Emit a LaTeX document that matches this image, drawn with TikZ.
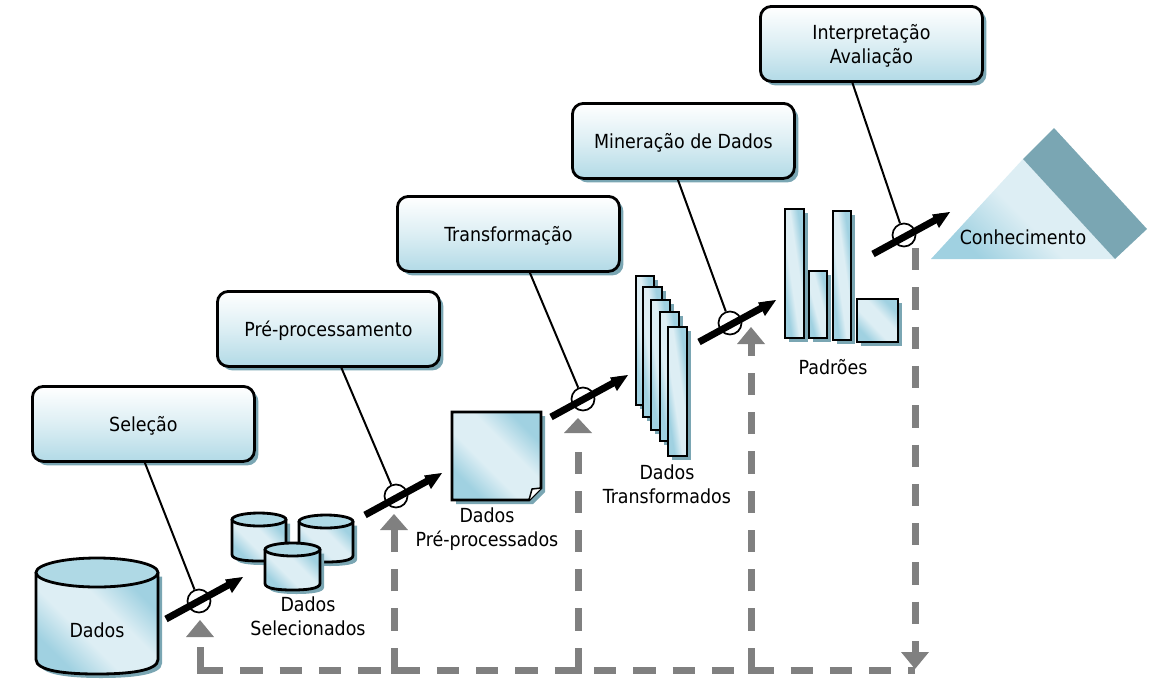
\documentclass[tikz,border=0pt]{standalone}
\usepackage{fontspec}
\setmainfont{DejaVu Sans Condensed}
\usetikzlibrary{calc}
\definecolor{dk}{HTML}{A0D1E1}
\definecolor{lt}{HTML}{DDEEF4}
\definecolor{boxb}{HTML}{B2DAE6}
\definecolor{shd}{HTML}{7AA6B3}
\definecolor{gr}{HTML}{808080}
\pgfdeclarehorizontalshading{diagsh}{100bp}{color(0bp)=(dk); color(27bp)=(dk); color(42bp)=(lt); color(58bp)=(lt); color(73bp)=(dk); color(100bp)=(dk)}
\pgfdeclarehorizontalshading{trish}{100bp}{color(0bp)=(dk); color(27bp)=(dk); color(48bp)=(lt); color(100bp)=(lt)}
\tikzset{
  every node/.style={font=\fontsize{19.4}{24}\selectfont, inner sep=0pt, align=center},
  stepbox/.style={draw=black, line width=2.8pt, rounded corners=11pt, minimum width=222pt, minimum height=75pt, top color=white, bottom color=boxb, middle color=white!55!boxb, anchor=north west, text depth=0pt,
    preaction={fill=shd, draw=none, transform canvas={shift={(4pt,-4pt)}}}},
  diag/.style={shading=diagsh, shading angle=45},
  outl/.style={draw=black, line width=2.8pt, line join=miter},
  hub/.style={circle, draw=black, line width=1.7pt, fill=white, minimum size=23pt},
  link/.style={draw=black, line width=2pt},
  flow/.style={draw=black, line width=7pt, shorten >=9pt},
  head/.style={fill=black, draw=none},
  back/.style={draw=gr, line width=7pt, dash pattern=on 22.3pt off 17pt},
  backsolid/.style={draw=gr, line width=7pt},
  tip/.style={fill=gr, draw=none},
}
% cylinder: x0 x1 ytop ybottom ry
\newcommand{\cyl}[5]{%
  \fill[shd] (#1+4,#3+#5+4) -- (#1+4,#4-#5+4) .. controls (#1+4,#4-0.2*#5+4) and (#1+4+0.25*#2-0.25*#1,#4+4) .. (#1/2+#2/2+4,#4+4) .. controls (#2+4-0.25*#2+0.25*#1,#4+4) and (#2+4,#4-0.2*#5+4) .. (#2+4,#4-#5+4) -- (#2+4,#3+#5+4) -- cycle;
  \shade[diag] (#1,#3+#5) -- (#1,#4-#5) .. controls (#1,#4-0.2*#5) and (#1+0.25*#2-0.25*#1,#4) .. (#1/2+#2/2,#4) .. controls (#2-0.25*#2+0.25*#1,#4) and (#2,#4-0.2*#5) .. (#2,#4-#5) -- (#2,#3+#5) -- cycle;
  \draw[outl] (#1,#3+#5) -- (#1,#4-#5) .. controls (#1,#4-0.2*#5) and (#1+0.25*#2-0.25*#1,#4) .. (#1/2+#2/2,#4) .. controls (#2-0.25*#2+0.25*#1,#4) and (#2,#4-0.2*#5) .. (#2,#4-#5) -- (#2,#3+#5);
  \path[fill=boxb!85!dk, draw=black, line width=2.8pt] (#1/2+#2/2,#3+#5) ellipse[x radius=(#2-#1)/2,y radius=#5];
}
% bar: x0 y0 x1 y1 (gradient stretched to the bar)
\newcommand{\barr}[4]{%
  \fill[shd] (#1+4,#2+4) rectangle (#3+4,#4+4);
  \shade[diag, transform canvas={shift={(#1,#2)},xscale={(#3-#1)/100},yscale={(#4-#2)/100}}] (0,0) rectangle (100,100);
  \draw[outl] (#1,#2) rectangle (#3,#4);
}
\begin{document}
\begin{tikzpicture}[x=1pt,y=-1pt]
\useasboundingbox (0,0) rectangle (1153,699);

% dashed feedback
\coordinate (f0) at (200,647);
\coordinate (f0c) at (200,673.5);
\coordinate (hs) at (201,670);
\coordinate (he) at (915,670);
\draw[backsolid] (f0) -- (f0c);
\draw[back] (hs) -- (he);
\foreach \x/\top in {394/530, 578/452, 751/344}{
  \coordinate (c) at (\x,670);
  \coordinate (t) at (\x,\top);
  \draw[back] (c) -- (t);
  \draw[backsolid] (\x,673.5) -- (c);
}
\coordinate (f4) at (915,248);
\coordinate (f4c) at (915,654);
\draw[back] (f4) -- (f4c);
\fill[tip] (200,620) -- (214,637) -- (186,637) -- cycle;
\fill[tip] (394,514) -- (408,530) -- (380,530) -- cycle;
\fill[tip] (578,418) -- (592,433) -- (564,433) -- cycle;
\fill[tip] (751,327) -- (765,344) -- (737,344) -- cycle;
\fill[tip] (915,669) -- (929,652) -- (901,652) -- cycle;

% boxes
\node[stepbox] (sel) at (31,385) {Seleção};
\node[stepbox] (pre) at (216,290) {Pré-processamento};
\node[stepbox] (tra) at (396,195) {Transformação};
\node[stepbox] (min) at (571,102) {Mineração de Dados};
\node[stepbox] (int) at (759,5) {Interpretação\\Avaliação};

% hubs
\node[hub] (h1) at (199,601) {};
\node[hub] (h2) at (396,496) {};
\node[hub] (h3) at (583,399) {};
\node[hub] (h4) at (730,323) {};
\node[hub] (h5) at (904,235) {};
\draw[link] ([xshift=1.5pt]sel.south) -- (h1);
\draw[link] ([xshift=13pt]pre.south) -- (h2);
\draw[link] ([xshift=21.5pt]tra.south) -- (h3);
\draw[link] ([xshift=-5.5pt]min.south) -- (h4);
\draw[link] ([xshift=-19pt]int.south) -- (h5);

% thick arrows
\foreach \x/\y/\n in {166/619/1, 365/515/2, 551/417/3, 699/342/4, 873/254/5}{
  \coordinate (a\n) at (\x,\y);
  \coordinate (b\n) at (\x+77,\y-42);
  \draw[flow] (a\n) -- (b\n);
  \fill[head] (b\n) -- ($(b\n)+(-18,2.5)$) -- ($(b\n)+(-11,16)$) -- cycle;
}

% data shapes
\cyl{36}{158}{558}{674}{14.5}
\node (dados) at (97,630) {Dados};
\cyl{232}{286}{513}{561}{6.5}
\cyl{299}{353}{515}{562}{6.5}
\cyl{265}{320}{543}{590}{6.5}
\node (sele) at (308,616) {Dados\\Selecionados};

% document
\fill[shd] (456,416) -- (545,416) -- (545,492) -- (533,504) -- (456,504) -- cycle;
\shade[diag] (452,412) -- (541,412) -- (541,488) -- (529,500) -- (452,500) -- cycle;
\draw[outl] (452,412) -- (541,412) -- (541,488) -- (529,500) -- (452,500) -- cycle;
\fill[white] (541,488) -- (529,500) -- (533,489) -- cycle;
\draw[black, line width=1.5pt] (529,500) -- (532,489) -- (541,488);
\node (prep) at (487,529) {Dados\\Pré-processados};

% stack
\barr{636}{276}{654}{405}
\barr{643}{287}{662}{417}
\barr{651}{300}{670}{430}
\barr{660}{312}{679}{441}
\barr{668}{327}{687}{456}
\node (tran) at (667,484) {Dados\\Transformados};

% bars
\barr{785}{209}{804}{338}
\barr{809}{271}{827}{338}
\barr{833}{211}{851}{340}
\barr{857}{299}{898}{342}
\node (pad) at (833,367) {Padrões};

% knowledge
\shade[shading=trish, shading angle=45] (931,259) -- (1023,159) -- (1115,259) -- cycle;
\fill[shd] (1023,159) -- (1054,128) -- (1147,229) -- (1115,259) -- cycle;
\node (con) at (1023,237) {Conhecimento};
\end{tikzpicture}
\end{document}
